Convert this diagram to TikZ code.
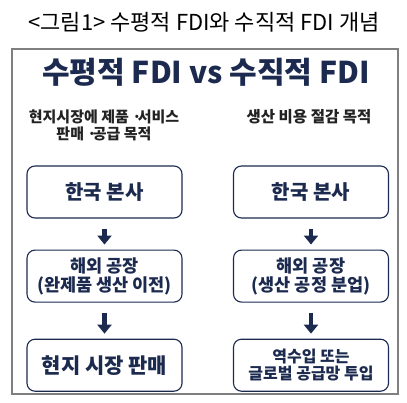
\documentclass[tikz,border=0pt]{standalone}
\usepackage{fontspec}
\usepackage{xcolor}
\usetikzlibrary{arrows.meta,positioning}
\setmainfont{Noto Sans CJK KR}
\definecolor{ink}{HTML}{1B2A4E}
\definecolor{frame}{HTML}{7F7F7F}
\definecolor{textgray}{HTML}{222222}
\newcommand{\middot}{·\kern-0.25em}
\tikzset{
  stepbox/.style={draw=ink,line width=1.1pt,fill=white,rounded corners=8pt,minimum width=155pt,minimum height=52pt,align=center,text=ink,font=\bfseries},
  goal/.style={align=center,text=textgray,font=\fontsize{15}{17}\selectfont\bfseries},
  down/.style={-{Triangle[width=14pt,length=9pt]},line width=4.5pt,draw=ink,shorten <=10pt,shorten >=5pt}
}
\begin{document}
\begin{tikzpicture}[x=1pt,y=-1pt]
    \useasboundingbox (0,0) rectangle (407,402);
    \node[font=\fontsize{22}{24}\selectfont] (caption) at (204,22) {<그림1> 수평적 FDI와 수직적 FDI 개념};
    \draw[frame,line width=1.2pt] (12,49) rectangle (398,394);
    \node[text=ink,font=\fontsize{30}{34}\selectfont\bfseries] (heading) at (206,72) {수평적 FDI vs 수직적 FDI};

    \node[goal] (goalH) at (104,125) {현지시장에 제품 \middot 서비스\\판매 \middot 공급 목적};
    \node[goal,font=\fontsize{15.5}{17}\selectfont\bfseries] (goalV) at (309,117) {생산 비용 절감 목적};

    \node[stepbox,font=\fontsize{20}{22}\selectfont\bfseries] (hqH) at (104.5,192) {한국 본사};
    \node[stepbox,font=\fontsize{17.5}{19}\selectfont\bfseries,below=31pt of hqH] (plantH) {해외 공장\\(완제품 생산 이전)};
    \node[stepbox,font=\fontsize{21}{22}\selectfont\bfseries,below=36pt of plantH] (marketH) {현지 시장 판매};

    \node[stepbox,font=\fontsize{20}{22}\selectfont\bfseries] (hqV) at (311,192) {한국 본사};
    \node[stepbox,font=\fontsize{17.5}{19}\selectfont\bfseries,below=31pt of hqV] (plantV) {해외 공장\\(생산 공정 분업)};
    \node[stepbox,font=\fontsize{16}{17.5}\selectfont\bfseries,below=36pt of plantV] (chainV) {역수입 또는\\글로벌 공급망 투입};

    \draw[down] (hqH) -- (plantH);
    \draw[down] (plantH) -- (marketH);
    \draw[down] (hqV) -- (plantV);
    \draw[down] (plantV) -- (chainV);
\end{tikzpicture}
\end{document}
